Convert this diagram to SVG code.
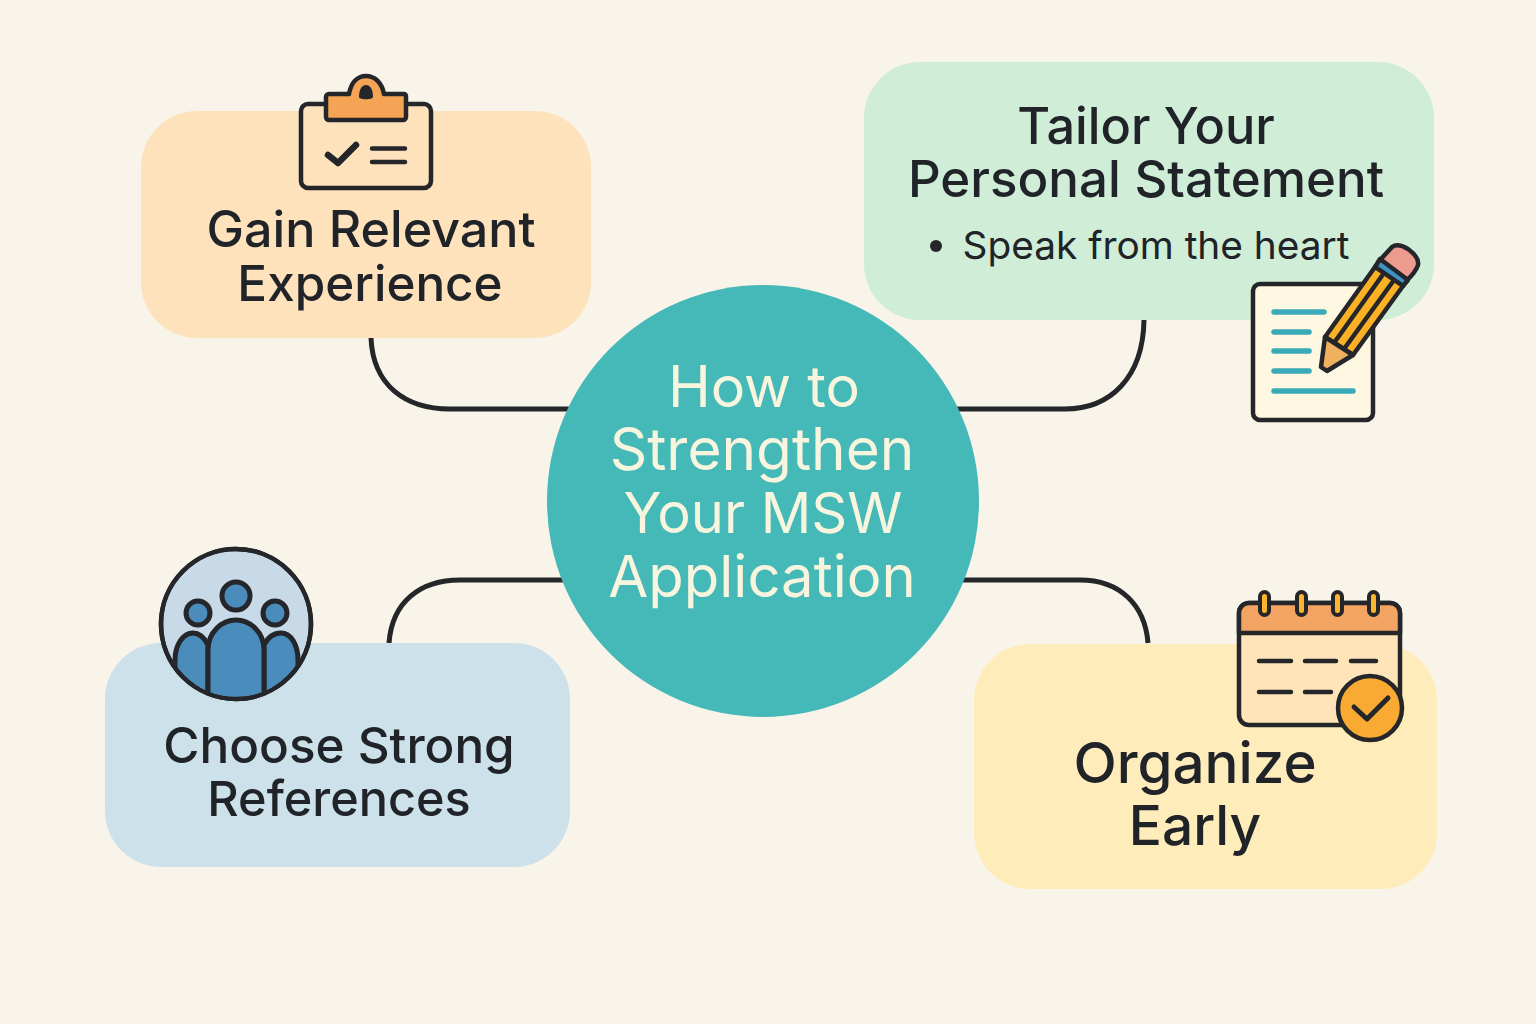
<svg xmlns="http://www.w3.org/2000/svg" width="1536" height="1024" viewBox="0 0 1536 1024">
<style>
text{font-family:Inter,"Noto Sans","Liberation Sans",sans-serif;font-weight:500;fill:#202327;text-anchor:middle}
.c{fill:#f8f5df;font-weight:400}
.k{fill:none;stroke:#24262a;stroke-width:5;stroke-linecap:round;stroke-linejoin:round}
.s{stroke:#24262a;stroke-width:4.5;stroke-linejoin:round}
.t{fill:none;stroke:#38aab8;stroke-width:5.500;stroke-linecap:round}
.n{fill:none;stroke:#24262a;stroke-width:4.500;stroke-linecap:round}
</style>
<defs><clipPath id="cc"><circle cx="236" cy="624" r="73"/></clipPath></defs>
<rect width="1536" height="1024" fill="#f9f4e9"/>
<g id="connectors" fill="none" stroke="#24262a" stroke-width="5">
<path d="M371 338C373 385 405 409 450 409H572"/>
<path d="M1144 320C1143 378 1110 409 1065 409H955"/>
<path d="M389 643C392 602 420 580 460 580H568"/>
<path d="M1148 643C1145 605 1120 580 1080 580H960"/>
</g>
<g id="node-experience">
<rect x="141" y="111" width="450" height="227" rx="56" fill="#fee2bc"/>
<path class="s" d="M308 104H424a7 7 0 0 1 7 7V181a7 7 0 0 1-7 7H308a7 7 0 0 1-7-7V111a7 7 0 0 1 7-7Z" fill="#fee2bc"/>
<path class="s" d="M329 94H349C351 83 357 76 366 76C375 76 382 83 384 94H404a2 2 0 0 1 2 2V117a3 3 0 0 1-3 3H329a3 3 0 0 1-3-3V97a3 3 0 0 1 3-3Z" fill="#f5a455"/>
<path d="M359 97C359 89 362 85 366 85C370 85 373 89 373 97C373 100 359 100 359 97Z" fill="#24262a"/>
<path class="k" style="stroke-width:6.500" d="M328 155L338 163L356 145"/>
<path class="n" d="M372 148.500H405M372 162H405"/>
<text x="371" y="247" style="font-size:50.200px">Gain Relevant</text>
<text x="370" y="301" style="font-size:49.400px">Experience</text>
</g>
<g id="node-statement">
<rect x="864" y="62" width="570" height="258" rx="56" fill="#cfedd7"/>
<text x="1146" y="144" style="font-size:50.400px">Tailor Your</text>
<text x="1146" y="197" style="font-size:51px">Personal Statement</text>
<circle cx="936" cy="246" r="6" fill="#24262a"/>
<text x="1156" y="259" style="font-size:38.800px;font-weight:400">Speak from the heart</text>
<rect x="1253" y="284" width="120" height="136" rx="7" fill="#fef7e1" class="s"/>
<path class="t" d="M1274 312H1324M1274 332H1309M1274 351H1309M1274 371H1309M1274 391H1353"/>
<path class="s" d="M1380 260L1392 247C1397 243 1403 246 1408 249C1415 254 1419 259 1418 265C1417 269 1412 276 1407 280Z" fill="#ec9b8e"/>
<path class="s" d="M1380 259L1408 280L1403 286L1375 267Z" fill="#3c93c4"/>
<path class="s" d="M1375 267L1403 286L1353 355L1325 337Z" fill="#fbb123"/>
<path fill="none" stroke="#24262a" stroke-width="4.500" d="M1334 343L1384 273M1344 349L1394 280"/>
<path class="s" d="M1325 337L1353 355L1327 371L1321 367Z" fill="#efb060"/>
</g>
<g id="node-references">
<rect x="105" y="643" width="465" height="224" rx="56" fill="#cde1ea"/>
<circle cx="236" cy="624" r="75" fill="#c8d9e8" stroke="#24262a" stroke-width="4.500"/>
<g fill="#4a8dbd" stroke="#24262a" stroke-width="5">
<circle cx="236" cy="596" r="14"/>
<circle cx="198" cy="613" r="12"/>
<circle cx="275" cy="613" r="12"/>
<g clip-path="url(#cc)">
<path d="M208 705V645C204 637 199 633 193 633C183 633 175 645 175 660V705Z"/>
<path d="M264 705V645C268 637 273 633 281 633C291 633 298 645 298 660V705Z"/>
<path d="M208 705V650C208 632 222 620 236 620C250 620 264 632 264 650V705Z"/>
</g></g>
<circle cx="236" cy="624" r="75" fill="none" stroke="#24262a" stroke-width="4.500"/>
<text x="339" y="763" style="font-size:49.400px">Choose Strong</text>
<text x="339" y="816" style="font-size:48.600px">References</text>
</g>
<g id="node-organize">
<rect x="974" y="644" width="463" height="245" rx="56" fill="#feecba"/>
<rect x="1239" y="603" width="161" height="122" rx="10" fill="#fee4b8" class="s"/>
<path class="s" d="M1239 633V613a10 10 0 0 1 10-10H1390a10 10 0 0 1 10 10V633Z" fill="#f4a462"/>
<g fill="#fbb52f" stroke="#24262a" stroke-width="4">
<rect x="1260" y="592" width="9" height="23" rx="4.500"/>
<rect x="1297" y="592" width="9" height="23" rx="4.500"/>
<rect x="1333" y="592" width="9" height="23" rx="4.500"/>
<rect x="1369" y="592" width="9" height="23" rx="4.500"/>
</g>
<path class="n" d="M1259 661H1291M1305 661H1336M1351 661H1376M1259 692H1291M1305 692H1331"/>
<circle cx="1370" cy="708" r="32" fill="#f8aa33" class="s"/>
<path class="k" d="M1354 707L1367 719L1388 698"/>
<text x="1195" y="783" style="font-size:56.500px">Organize</text>
<text x="1195" y="845" style="font-size:55px">Early</text>
</g>
<g id="node-center">
<circle cx="763" cy="501" r="216" fill="#45b8b8"/>
<text class="c" x="764" y="407" style="font-size:57.500px">How to</text>
<text class="c" x="762" y="470" style="font-size:58.500px">Strengthen</text>
<text class="c" x="763" y="533" style="font-size:56px">Your MSW</text>
<text class="c" x="762" y="597" style="font-size:58px">Application</text>
</g>
</svg>
